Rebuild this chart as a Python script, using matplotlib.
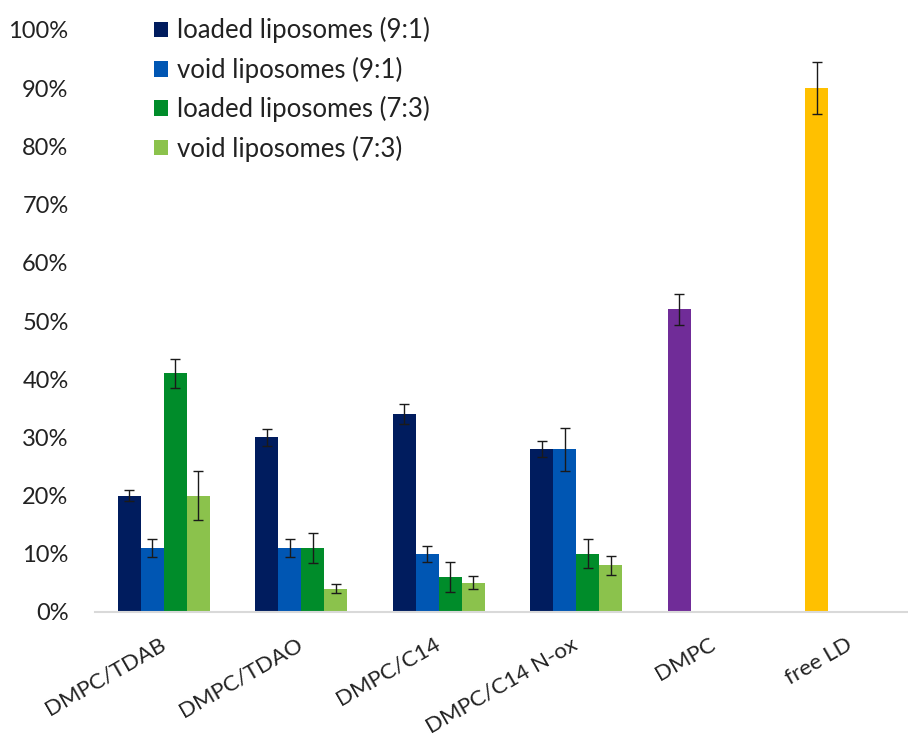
import numpy as np
import matplotlib.pyplot as plt
from matplotlib.ticker import PercentFormatter

plt.rcParams['font.family'] = ['Lato', 'DejaVu Sans']

# liposome formulations (grouped bars)
groups = ["DMPC/TDAB", "DMPC/TDAO", "DMPC/C14", "DMPC/C14 N-ox"]
loaded_91 = [20, 30, 34, 28]
void_91 = [11, 11, 10, 28]
loaded_73 = [41, 11, 6, 10]
void_73 = [20, 4, 5, 8]
err_loaded_91 = [1.0, 1.5, 1.7, 1.4]
err_void_91 = [1.5, 1.5, 1.4, 3.7]
err_loaded_73 = [2.5, 2.5, 2.6, 2.5]
err_void_73 = [4.2, 0.8, 1.1, 1.7]

# reference samples (single bars)
refs = ["DMPC", "free LD"]
ref_values = [52, 90]
ref_errors = [2.7, 4.5]

series = [
    ("loaded liposomes (9:1)", loaded_91, err_loaded_91, "#001C5E"),
    ("void liposomes (9:1)", void_91, err_void_91, "#0056B3"),
    ("loaded liposomes (7:3)", loaded_73, err_loaded_73, "#008C2A"),
    ("void liposomes (7:3)", void_73, err_void_73, "#8BC24C"),
]
ref_colors = ["#702C98", "#FFC000"]

W, H = 908, 739
fig = plt.figure(figsize=(W / 100, H / 100), dpi=100)
ax = fig.add_axes([95 / W, (H - 612) / H, (908 - 95) / W, (612 - 30) / H])

width = 0.167
x = np.arange(len(groups))
err_kw = dict(ecolor="#1a1a1a", elinewidth=1, capsize=3.5, capthick=1)

for k, (label, vals, errs, color) in enumerate(series):
    ax.bar(x + (k - 1.5) * width, vals, width, yerr=errs, color=color,
           label=label, error_kw=err_kw)

xr = np.arange(len(groups), len(groups) + len(refs))
ax.bar(xr - 1.5 * width, ref_values, width, yerr=ref_errors,
       color=ref_colors, error_kw=err_kw)

ax.set_ylim(0, 100)
ax.set_yticks(np.arange(0, 101, 10))
ax.yaxis.set_major_formatter(PercentFormatter(decimals=0))
ax.set_xlim(-0.5, (908 - 163) / 137.6)
ax.set_xticks(np.arange(len(groups) + len(refs)))
ax.set_xticklabels(groups + refs, rotation=30, ha="right", va="center",
                   rotation_mode="anchor")

for side in ("top", "right", "left"):
    ax.spines[side].set_visible(False)
ax.spines["bottom"].set_color("#d9d9d9")
ax.spines["bottom"].set_linewidth(1.5)
ax.tick_params(axis="both", length=0, labelcolor="#222222")
ax.tick_params(axis="y", pad=19, labelsize=17)
ax.tick_params(axis="x", pad=22, labelsize=16)

ax.legend(loc="upper left", bbox_to_anchor=(144 / W, 1 - 7 / H),
          bbox_transform=fig.transFigure, frameon=False, fontsize=18.5,
          handlelength=0.55, handleheight=0.55, handletextpad=0.32,
          labelspacing=0.52, borderaxespad=0, labelcolor="#222222")

fig.savefig("out.png", dpi=100)
